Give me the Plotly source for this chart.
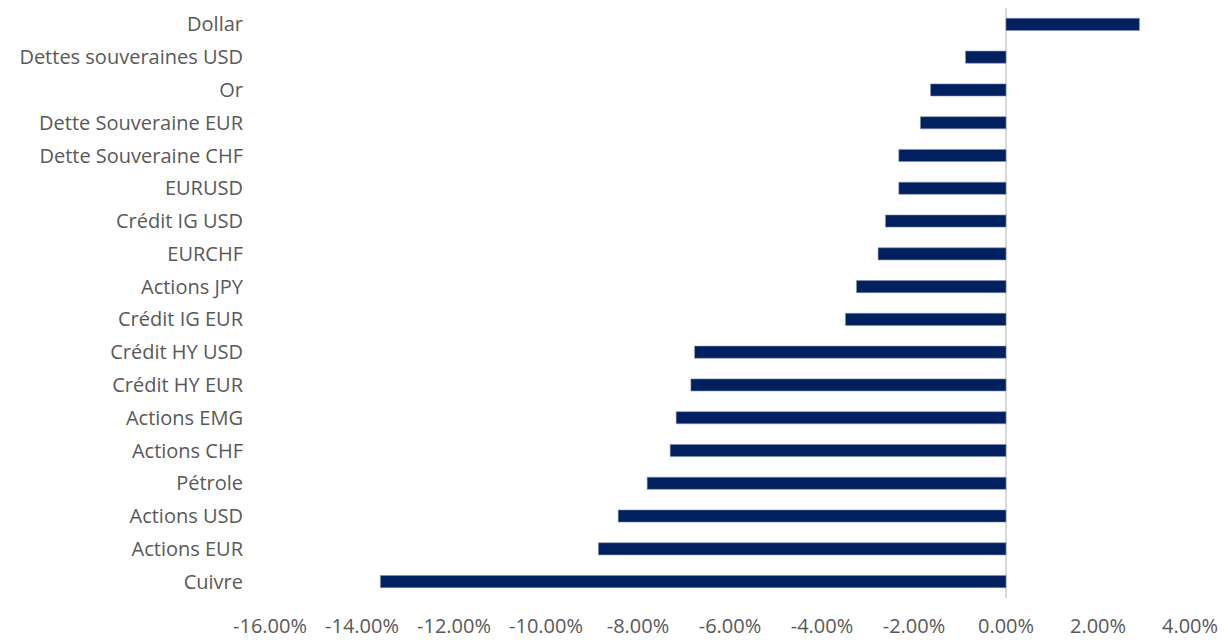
import plotly.graph_objects as go

categories = ["Dollar", "Dettes souveraines USD", "Or", "Dette Souveraine EUR",
              "Dette Souveraine CHF", "EURUSD", "Crédit IG USD", "EURCHF",
              "Actions JPY", "Crédit IG EUR", "Crédit HY USD", "Crédit HY EUR",
              "Actions EMG", "Actions CHF", "Pétrole", "Actions USD",
              "Actions EUR", "Cuivre"]
values = [2.90, -0.88, -1.64, -1.86, -2.33, -2.33, -2.62, -2.78, -3.25, -3.49,
          -6.77, -6.85, -7.17, -7.30, -7.80, -8.43, -8.86, -13.60]
tick_vals = [-16, -14, -12, -10, -8, -6, -4, -2, 0, 2, 4]
tick_text = ["-16.00%", "-14.00%", "-12.00%", "-10.00%", "-8.00%", "-6.00%",
             "-4.00%", "-2.00%", "0.00%", "2.00%", "4.00%"]

fig = go.Figure(go.Bar(
    x=values, y=categories, orientation="h",
    marker=dict(color="#002060", line=dict(color="#8090b0", width=0.6)),
    hoverinfo="x+y",
))

font_family = "Open Sans, Lato, Noto Sans, sans-serif"
fig.update_layout(
    width=1224, height=640,
    margin=dict(l=270, r=34, t=8, b=42),
    paper_bgcolor="white", plot_bgcolor="white",
    bargap=0.63, showlegend=False,
    font=dict(family=font_family, size=20, color="#595959"),
)
fig.update_xaxes(
    range=[-16, 4], tickvals=tick_vals, ticktext=tick_text,
    showgrid=False, zeroline=True, zerolinecolor="#d9d9d9", zerolinewidth=1.5,
    showline=False, ticks="", ticklabelstandoff=14, automargin=False,
    tickfont=dict(size=20, color="#595959"),
)
fig.update_yaxes(
    categoryorder="array", categoryarray=categories[::-1],
    showgrid=False, showline=False, ticks="", ticklabelstandoff=26,
    automargin=False,
    tickfont=dict(size=20, color="#595959"),
)

fig.write_html("out.html")
